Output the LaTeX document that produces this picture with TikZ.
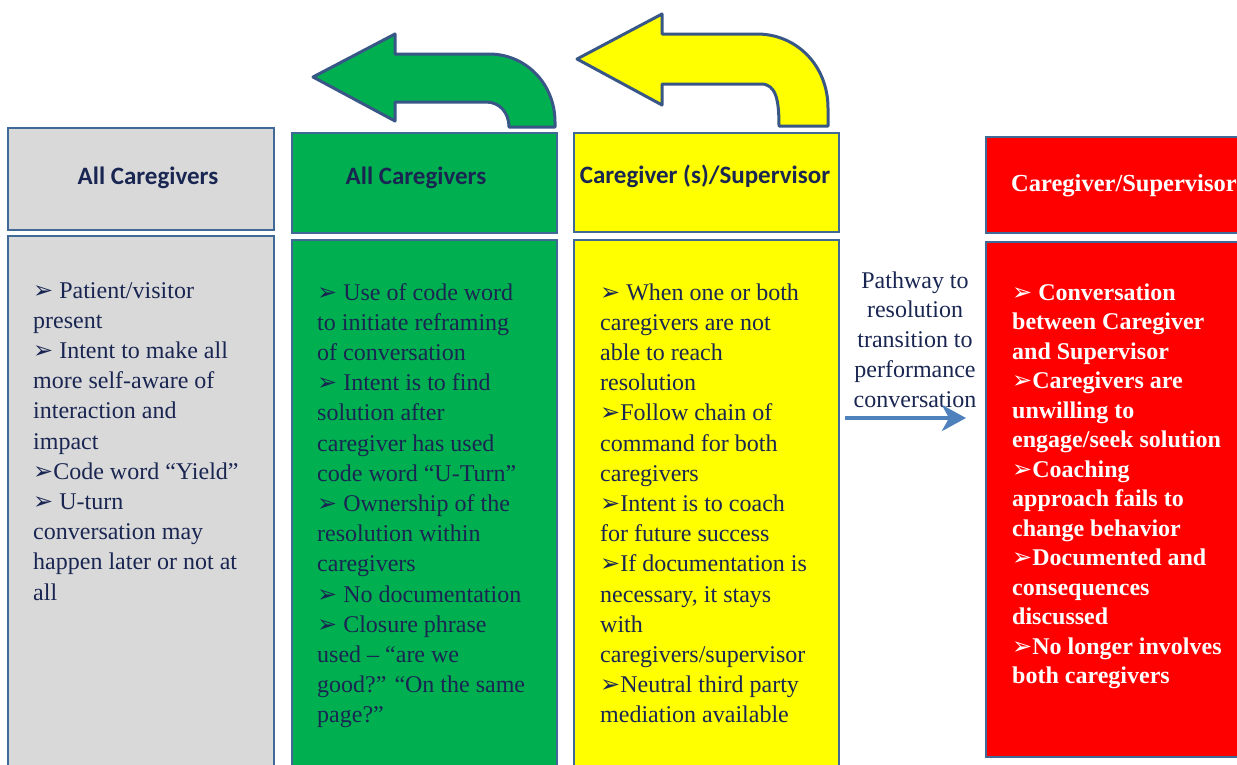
\documentclass[tikz,border=0pt]{standalone}
\usepackage{fontspec}
\setmainfont{Liberation Serif}
\newfontfamily\hdrfont{Carlito}
\newfontfamily\symfont{DejaVu Sans}
\usetikzlibrary{arrows.meta}
\definecolor{navytext}{RGB}{26,38,82}
\definecolor{boxedge}{RGB}{65,105,150}
\definecolor{turnedge}{RGB}{56,87,135}
\definecolor{greyfill}{RGB}{217,217,217}
\definecolor{greenfill}{RGB}{0,176,80}
\definecolor{yellowfill}{RGB}{255,255,0}
\definecolor{redfill}{RGB}{255,0,0}
\definecolor{pathblue}{RGB}{79,129,189}
\newcommand{\bul}{{\symfont ➢}}
\newcommand{\panel}[5]{ \draw[panelline, fill=#5] ( #1 , #2 ) rectangle ( #3 , #4 );}
\tikzset{
  panelline/.style={draw=boxedge, line width=2pt},
  turnline/.style={draw=turnedge, line width=3pt, line join=round},
  hdrtext/.style={inner sep=0pt, font=\hdrfont\bfseries\fontsize{25}{30}\selectfont, text=navytext},
  % multi-line nodes: base anchor sits on the last line
  bodytext/.style={anchor=base west, align=left, inner sep=0pt, font=\fontsize{24}{30.2}\selectfont, text=navytext},
  pathtext/.style={anchor=base, align=center, inner sep=0pt, font=\fontsize{24}{29.8}\selectfont, text=navytext},
  patharrow/.style={draw=pathblue, line width=4pt, -{Stealth[length=24pt, width=26pt, inset=7pt]}}
}
\begin{document}
\begin{tikzpicture}[x=1pt, y=-1pt]
        \clip (0,0) rectangle (1237,764);

        % uturn arrows
        \draw[turnline, fill=greenfill] (313,77) -- (395,34) -- (395,54) -- (489,54)
            .. controls (526,54) and (555,84) .. (555,122) -- (555,127) -- (509,127)
            .. controls (509,113) and (500,102) .. (486,102) -- (395,102) -- (395,121) -- cycle;
        \draw[turnline, fill=yellowfill] (577,59) -- (662,14) -- (662,34) -- (757,34)
            .. controls (797,34) and (828,66) .. (828,108) -- (828,126) -- (779,126)
            .. controls (779,100) and (776,84) .. (761,84) -- (662,84) -- (662,105) -- cycle;

        % headers
        \panel{8}{128}{274}{230}{greyfill}
        \panel{292}{133}{557}{233}{greenfill}
        \panel{574}{133}{839}{232}{yellowfill}
        \panel{986}{137}{1250}{233}{redfill}

        % bodies
        \panel{8}{236}{274}{775}{greyfill}
        \panel{292}{240}{557}{775}{greenfill}
        \panel{574}{240}{839}{775}{yellowfill}
        \panel{986}{242}{1250}{757}{redfill}

        % header labels
        \node[hdrtext] (greyhdr) at (148,178) {All Caregivers};
        \node[hdrtext] (greenhdr) at (416,178) {All Caregivers};
        \node[hdrtext] (yellowhdr) at (705,176) {Caregiver (s)/Supervisor};
        \node[hdrtext, anchor=west, font=\bfseries\fontsize{24.5}{30}\selectfont, text=white] (redhdr) at (1011,186) {Caregiver/Supervisor};

        % body texts
        \node[bodytext] (greytxt) at (33,600) {\bul{} Patient/visitor\\present\\\bul{} Intent to make all\\more self-aware of\\interaction and\\impact\\\bul{}Code word “Yield”\\\bul{} U-turn\\conversation may\\happen later or not at\\all};
        \node[bodytext] (greentxt) at (317,722.8) {\bul{} Use of code word\\to initiate reframing\\of conversation\\\bul{} Intent is to find\\solution after\\caregiver has used\\code word “U-Turn”\\\bul{} Ownership of the\\resolution within\\caregivers\\\bul{} No documentation\\\bul{} Closure phrase\\used – “are we\\good?” “On the same\\page?”};
        \node[bodytext] (yellowtxt) at (600,722.8) {\bul{} When one or both\\caregivers are not\\able to reach\\resolution\\\bul{}Follow chain of\\command for both\\caregivers\\\bul{}Intent is to coach\\for future success\\\bul{}If documentation is\\necessary, it stays\\with\\caregivers/supervisor\\\bul{}Neutral third party\\mediation available};
        \node[bodytext, font=\bfseries\fontsize{24}{29.5}\selectfont, text=white] (redtxt) at (1012,683.5) {\bul{} Conversation\\between Caregiver\\and Supervisor\\\bul{}Caregivers are\\unwilling to\\engage/seek solution\\\bul{}Coaching\\approach fails to\\change behavior\\\bul{}Documented and\\consequences\\discussed\\\bul{}No longer involves\\both caregivers};

        % pathway
        \node[pathtext] (pathway) at (915,407.2) {Pathway to\\resolution\\transition to\\performance\\conversation};
        \coordinate (pstart) at (845,418);
        \coordinate (pend) at (966,418);
        \draw[patharrow] (pstart) -- (pend);
\end{tikzpicture}
\end{document}
